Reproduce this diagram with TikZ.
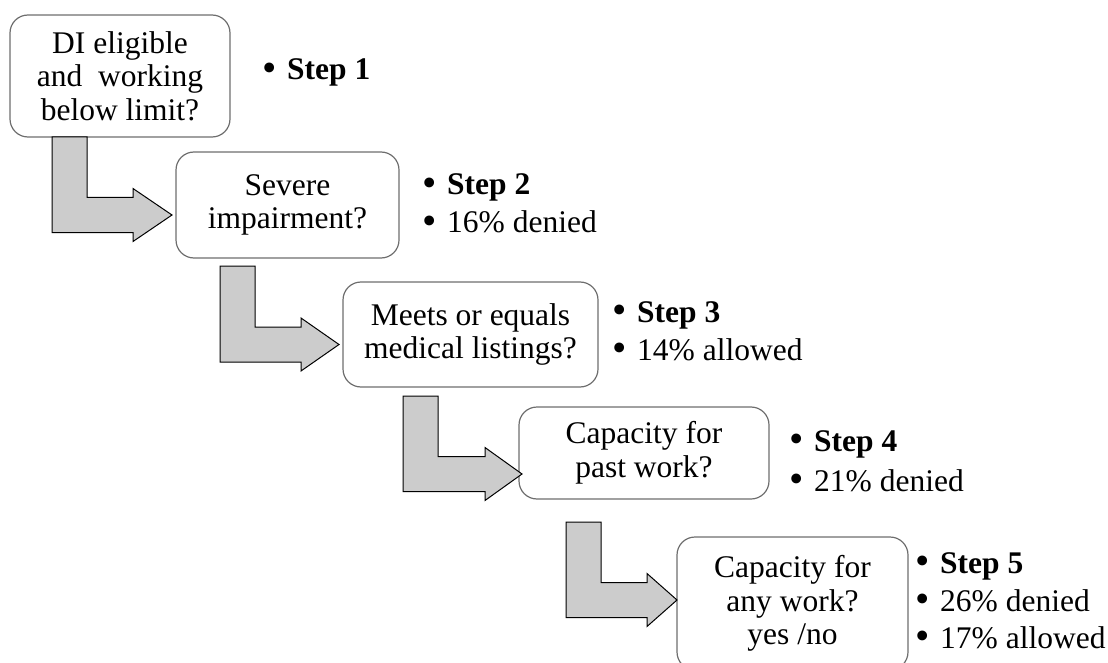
\documentclass[tikz,border=0pt]{standalone}
\usepackage{fontspec}
\usepackage{graphicx}
\setmainfont{Liberation Serif}
\usetikzlibrary{calc}
\definecolor{boxgray}{RGB}{110,110,110}
\definecolor{arrowgray}{RGB}{204,204,204}
\newcommand\blockarrow[3]{%
  \draw[blk] let \p1=(#1), \p2=(#2) in
   (\x1,\y1) -- (\x1+35pt,\y1) -- (\x1+35pt,\y2+17.5pt) -- (\x2-#3pt,\y2+17.5pt)
   -- (\x2-#3pt,\y2+26.5pt) -- (\x2,\y2) -- (\x2-#3pt,\y2-26.5pt)
   -- (\x2-#3pt,\y2-17.5pt) -- (\x1,\y2-17.5pt) -- cycle;}
\tikzset{
  qbox/.style={draw=boxgray, line width=1.2pt, rounded corners=18pt, fill=white,
    align=center, inner sep=0pt, font=\fontsize{31.5}{33.5}\selectfont},
  blk/.style={draw=black, line width=1pt, fill=arrowgray, line join=miter},
  bul/.style={anchor=base west, inner sep=0pt, font=\fontsize{31.5}{33}\selectfont},
}
\newcommand\bl{\makebox[25pt][l]{\raisebox{-1.5pt}{\scalebox{1.3}{•}}}}
\begin{document}
\begin{tikzpicture}[x=1pt,y=-1pt]
\useasboundingbox (0,0) rectangle (1108,663);
% question boxes
\node[qbox, minimum width=220pt, minimum height=122pt] (b1) at (120,76)
  {DI eligible\\and~ working\\below limit?};
\node[qbox, minimum width=223pt, minimum height=106pt] (b2) at (287.5,205)
  {Severe\\impairment?};
\node[qbox, minimum width=255pt, minimum height=105pt] (b3) at (470.5,334.5)
  {Meets or equals\\medical listings?};
\node[qbox, minimum width=250pt, minimum height=92pt] (b4) at (644,453)
  {Capacity for\\past work?};
\node[qbox, minimum width=231pt, minimum height=133pt] (b5) at (792.5,603.5)
  {Capacity for\\any work?\\yes /no};
% block arrows
\coordinate (a1s) at (52,137);  \coordinate (a1t) at (172,215);
\coordinate (a2s) at (220,266); \coordinate (a2t) at (339,344.5);
\coordinate (a3s) at (403,396); \coordinate (a3t) at (522,474);
\coordinate (a4s) at (566,522); \coordinate (a4t) at (677,600);
\blockarrow{a1s}{a1t}{39}
\blockarrow{a2s}{a2t}{38}
\blockarrow{a3s}{a3t}{37}
\blockarrow{a4s}{a4t}{30}
% bullet lists
\node[bul] (s1a) at (262,80) {\bl\textbf{Step 1}};
\node[bul] (s2a) at (422,195) {\bl\textbf{Step 2}};
\node[bul] (s2b) at (422,233) {\bl 16\% denied};
\node[bul] (s3a) at (612,322) {\bl\textbf{Step 3}};
\node[bul] (s3b) at (612,360) {\bl 14\% allowed};
\node[bul] (s4a) at (789,451) {\bl\textbf{Step 4}};
\node[bul] (s4b) at (789,491) {\bl 21\% denied};
\node[bul] (s5a) at (915,573) {\bl\textbf{Step 5}};
\node[bul] (s5b) at (915,611) {\bl 26\% denied};
\node[bul] (s5c) at (915,648) {\bl 17\% allowed};
\end{tikzpicture}
\end{document}
